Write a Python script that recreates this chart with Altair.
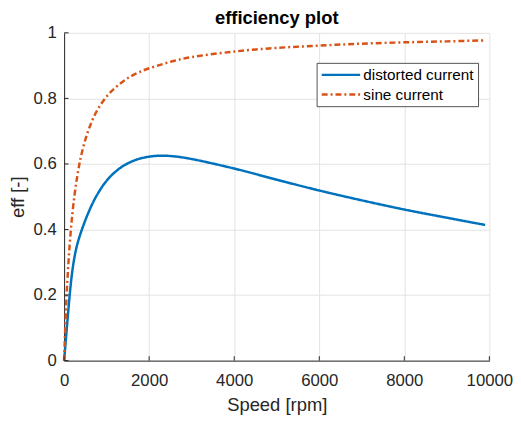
import altair as alt
import pandas as pd

speed = [0, 50, 100, 150, 200, 250, 300, 350, 400, 550, 750, 1000, 1250, 1500, 1800,
         2200, 2600, 3000, 4000, 5000, 6000, 7000, 8000, 9000, 9900]
eff_distorted = [0.0, 0.078, 0.155, 0.225, 0.28, 0.32, 0.35, 0.373, 0.393, 0.445, 0.5,
                 0.549, 0.581, 0.602, 0.617, 0.625, 0.623, 0.615, 0.586, 0.552,
                 0.519, 0.489, 0.461, 0.436, 0.414]
eff_sine = [0.0, 0.175, 0.295, 0.385, 0.455, 0.51, 0.555, 0.593, 0.625, 0.695, 0.757,
            0.806, 0.838, 0.862, 0.882, 0.90, 0.915, 0.926, 0.943, 0.954,
            0.961, 0.967, 0.971, 0.974, 0.977]
series_names = ["distorted current", "sine current"]
series_colors = ["#0072BD", "#D95319"]
x_ticks = [0, 2000, 4000, 6000, 8000, 10000]
y_ticks = [0, 0.2, 0.4, 0.6, 0.8, 1]
title_text = "efficiency plot"

df = pd.DataFrame({
    "speed": speed * 2,
    "eff": eff_distorted + eff_sine,
    "series": [series_names[0]] * len(speed) + [series_names[1]] * len(speed),
})

W, H = 432, 333
FONT = "Liberation Sans"
TXT = "#262626"

xscale = alt.Scale(domain=[0, 10000], nice=False)
yscale = alt.Scale(domain=[0, 1], nice=False)

lines = alt.Chart(df).mark_line(strokeWidth=2.5, interpolate="catmull-rom").encode(
    x=alt.X("speed:Q", scale=xscale, axis=alt.Axis(
        values=x_ticks, title="Speed [rpm]", format="d", grid=True, ticks=False, tickSize=0,
        labelPadding=25, labelBaseline="alphabetic", labelFontSize=17,
        labelFont=FONT, labelColor=TXT, titleFont=FONT, titleFontSize=18.7,
        titleFontWeight="normal", titleColor=TXT, titleX=W / 2, titleY=51,
        titleBaseline="alphabetic", titleAlign="center",
        domainColor=TXT, domainWidth=1, gridColor="#e3e3e3", gridWidth=1,
        labelFlush=False, labelOverlap=False)),
    y=alt.Y("eff:Q", scale=yscale, axis=alt.Axis(
        values=y_ticks, title="eff [-]", format=".1~f", grid=True, ticks=False,
        tickSize=0, labelPadding=8, labelFontSize=17, labelFont=FONT,
        labelColor=TXT, titleFont=FONT, titleFontSize=18.7,
        titleFontWeight="normal", titleColor=TXT, titleX=-41, titleY=H / 2,
        titleAngle=-90, titleBaseline="alphabetic", titleAlign="center",
        domainColor=TXT, domainWidth=1, gridColor="#e3e3e3", gridWidth=1,
        labelFlush=False, labelOverlap=False)),
    color=alt.Color("series:N", scale=alt.Scale(domain=series_names, range=series_colors), legend=None),
    strokeDash=alt.StrokeDash("series:N", scale=alt.Scale(domain=series_names, range=[[1, 0], [6, 3, 2, 3]]), legend=None),
)

xt = alt.Chart(pd.DataFrame({"t": x_ticks})).mark_rule(color=TXT, strokeWidth=1).encode(
    x=alt.X("t:Q", scale=xscale), y=alt.value(H), y2=alt.value(H - 4.5))
yt = alt.Chart(pd.DataFrame({"t": y_ticks})).mark_rule(color=TXT, strokeWidth=1).encode(
    y=alt.Y("t:Q", scale=yscale), x=alt.value(0), x2=alt.value(4.5))

one = pd.DataFrame({"a": [0]})
box = alt.Chart(one).mark_rect(fill="white", stroke=TXT, strokeWidth=0.8).encode(
    x=alt.value(257), x2=alt.value(421), y=alt.value(31), y2=alt.value(75))

title = alt.Chart(one).mark_text(text=title_text, align="center", baseline="alphabetic",
                                 font=FONT, fontSize=18.7, fontWeight="bold", color="#000").encode(
    x=alt.value(W / 2), y=alt.value(-8.5))

legend_layers = []
for i, (name, col) in enumerate(zip(series_names, series_colors)):
    yy = 42.7 + 20 * i
    dash = [1, 0] if i == 0 else [6, 3, 2, 3]
    legend_layers.append(alt.Chart(one).mark_rule(color=col, strokeWidth=2.5, strokeDash=dash).encode(
        x=alt.value(261.7), x2=alt.value(300.7), y=alt.value(yy)))
    legend_layers.append(alt.Chart(one).mark_text(text=name, align="left", baseline="middle",
                                                   font=FONT, fontSize=15.5, color="#000").encode(
        x=alt.value(304), y=alt.value(yy + 0.5)))

chart = alt.layer(lines, xt, yt, box, title, *legend_layers).properties(
    width=W, height=H,
    autosize=alt.AutoSizeParams(type="none"),
    padding={"left": 57, "top": 22, "right": 24, "bottom": 53},
).configure_view(stroke=None)

chart.save("out.html", embed_options={"renderer": "svg", "actions": False})
